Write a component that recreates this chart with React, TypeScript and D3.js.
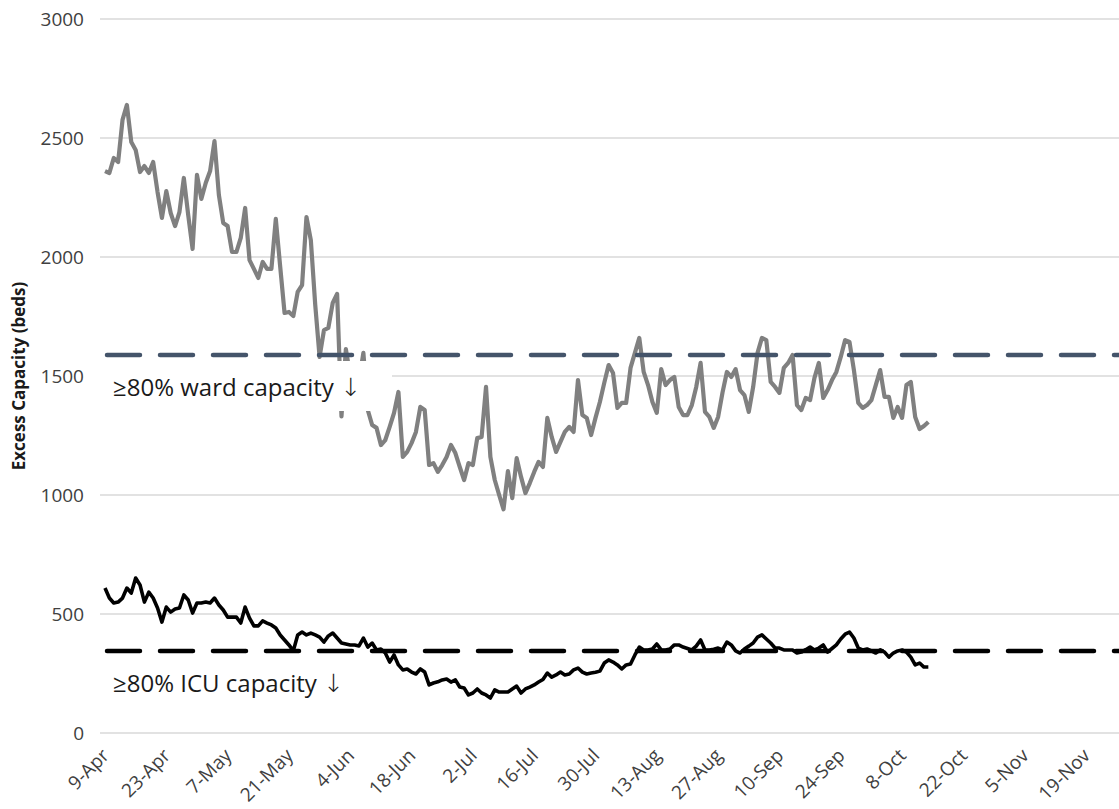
import React, { useEffect, useRef } from 'react';
import * as d3 from 'd3';

// daily excess capacity, 9-Apr onwards (beds)
const wardBeds = [
  2361, 2353, 2416, 2399, 2576, 2639, 2483, 2450, 2357, 2382,
  2353, 2399, 2273, 2164, 2277, 2185, 2130, 2189, 2332, 2176,
  2034, 2345, 2244, 2311, 2361, 2487, 2261, 2143, 2130, 2021,
  2021, 2080, 2206, 1987, 1950, 1912, 1979, 1950, 1950, 2160,
  1960, 1765, 1769, 1752, 1853, 1882, 2168, 2071, 1800, 1580,
  1693, 1702, 1807, 1845, 1330, 1613, 1500, 1450, 1480, 1597,
  1357, 1294, 1282, 1210, 1231, 1286, 1345, 1433, 1160, 1181,
  1218, 1265, 1370, 1357, 1126, 1134, 1097, 1126, 1160, 1210,
  1176, 1118, 1063, 1134, 1126, 1239, 1244, 1454, 1160, 1063,
  1000, 940, 1100, 987, 1155, 1076, 1008, 1050, 1097, 1139,
  1118, 1324, 1244, 1181, 1223, 1265, 1286, 1265, 1483, 1336,
  1324, 1252, 1324, 1391, 1471, 1546, 1513, 1366, 1387, 1387,
  1534, 1597, 1660, 1517, 1462, 1391, 1345, 1529, 1462, 1483,
  1496, 1370, 1336, 1336, 1378, 1454, 1555, 1349, 1328, 1282,
  1328, 1430, 1517, 1496, 1529, 1441, 1420, 1349, 1454, 1597,
  1660, 1651, 1475, 1454, 1429, 1534, 1555, 1588, 1378, 1357,
  1408, 1399, 1492, 1555, 1408, 1441, 1483, 1517, 1580, 1651,
  1643, 1525, 1387, 1366, 1378, 1399, 1462, 1525, 1412, 1412,
  1324, 1370, 1324, 1462, 1475, 1328, 1277, 1290, 1307,
];

const icuBeds = [
  609, 567, 546, 550, 567, 609, 588, 651, 622, 550,
  592, 567, 525, 466, 529, 508, 521, 525, 580, 559,
  504, 546, 546, 550, 546, 567, 538, 517, 487, 487,
  487, 462, 529, 483, 450, 450, 471, 462, 454, 441,
  412, 391, 370, 345, 412, 424, 412, 420, 412, 403,
  382, 408, 420, 399, 378, 374, 370, 370, 366, 399,
  361, 378, 349, 353, 336, 298, 328, 286, 265, 269,
  256, 248, 269, 256, 202, 210, 215, 223, 227, 214,
  223, 193, 189, 160, 168, 185, 168, 160, 147, 181,
  172, 172, 172, 185, 197, 168, 185, 193, 202, 214,
  225, 252, 235, 244, 256, 244, 248, 265, 273, 256,
  248, 252, 255, 260, 294, 307, 298, 286, 269, 286,
  290, 328, 361, 349, 349, 353, 374, 349, 349, 353,
  370, 370, 361, 355, 349, 365, 391, 349, 349, 352,
  357, 349, 382, 370, 345, 336, 353, 365, 378, 403,
  412, 395, 378, 357, 357, 349, 349, 349, 336, 340,
  350, 361, 349, 357, 370, 340, 355, 370, 395, 415,
  424, 399, 357, 349, 353, 345, 336, 349, 340, 319,
  336, 345, 349, 340, 319, 286, 294, 277, 277,
];

const wardThreshold = 1588;
const icuThreshold = 345;

const xTickLabels = [
  '9-Apr', '23-Apr', '7-May', '21-May', '4-Jun', '18-Jun', '2-Jul', '16-Jul', '30-Jul',
  '13-Aug', '27-Aug', '10-Sep', '24-Sep', '8-Oct', '22-Oct', '5-Nov', '19-Nov',
];
const yTicks = [0, 500, 1000, 1500, 2000, 2500, 3000];

const wardLabel = '≥80% ward capacity ↓';
const icuLabel = '≥80% ICU capacity ↓';
const yTitle = 'Excess Capacity (beds)';

const start = new Date(2020, 3, 9);

const App: React.FC = () => {
  const svgRef = useRef<SVGSVGElement>(null);

  useEffect(() => {
    if (!svgRef.current) return;
    const svg = d3.select(svgRef.current);
    svg.selectAll('*').remove();

    const W = 1119;
    const H = 809;
    const left = 103;
    const font = "'Open Sans', 'Noto Sans', sans-serif";

    const x = d3.scaleTime()
      .domain([start, d3.timeDay.offset(start, 224)])
      .range([105, 1086]);
    const y = d3.scaleLinear().domain([0, 3000]).range([733, 19]);

    const day = (i: number) => d3.timeDay.offset(start, i);

    // gridlines
    svg.append('g')
      .selectAll('line')
      .data(yTicks)
      .enter().append('line')
      .attr('x1', left - 3)
      .attr('x2', W)
      .attr('y1', d => y(d))
      .attr('y2', d => y(d))
      .attr('stroke', '#d9d9d9')
      .attr('stroke-width', 1.3);

    // y tick labels
    svg.append('g')
      .selectAll('text')
      .data(yTicks)
      .enter().append('text')
      .attr('x', 84)
      .attr('y', d => y(d))
      .attr('dy', '0.36em')
      .attr('text-anchor', 'end')
      .attr('font-family', font)
      .attr('font-size', 19)
      .attr('fill', '#404040')
      .text(d => d);

    // y title
    svg.append('text')
      .attr('transform', `translate(25,${y(1500)}) rotate(-90)`)
      .attr('text-anchor', 'middle')
      .attr('font-family', font)
      .attr('font-weight', 'bold')
      .attr('font-size', 17)
      .attr('fill', '#1a1a1a')
      .text(yTitle);

    // x axis labels
    const xAxis = d3.axisBottom(x)
      .tickValues(xTickLabels.map((_, i) => day(i * 14)))
      .tickFormat((_, i) => xTickLabels[i])
      .tickSize(0);

    const gx = svg.append('g')
      .attr('transform', `translate(0,733)`)
      .call(xAxis);
    gx.select('.domain').remove();
    gx.selectAll('text')
      .attr('x', 0)
      .attr('y', 0)
      .attr('dy', '0.35em')
      .attr('transform', 'translate(0,19) rotate(-45)')
      .attr('text-anchor', 'end')
      .attr('font-family', font)
      .attr('font-size', 19)
      .attr('fill', '#404040');

    // series lines
    const line = d3.line<number>()
      .x((_, i) => x(day(i)))
      .y(d => y(d));

    svg.append('path')
      .datum(wardBeds)
      .attr('fill', 'none')
      .attr('stroke', '#808080')
      .attr('stroke-width', 4.2)
      .attr('stroke-linejoin', 'round')
      .attr('d', line);

    svg.append('path')
      .datum(icuBeds)
      .attr('fill', 'none')
      .attr('stroke', '#000')
      .attr('stroke-width', 3.6)
      .attr('stroke-linejoin', 'round')
      .attr('d', line);

    // capacity thresholds
    const thresholds = [
      { v: wardThreshold, color: '#44546a' },
      { v: icuThreshold, color: '#000' },
    ];
    svg.append('g')
      .selectAll('line')
      .data(thresholds)
      .enter().append('line')
      .attr('x1', 107)
      .attr('x2', W + 20)
      .attr('y1', d => y(d.v))
      .attr('y2', d => y(d.v))
      .attr('stroke', d => d.color)
      .attr('stroke-width', 4.5)
      .attr('stroke-linecap', 'round')
      .attr('stroke-dasharray', '33 20');

    // annotation boxes + text
    svg.append('rect')
      .attr('x', left - 4)
      .attr('y', 361)
      .attr('width', 392 - left + 4)
      .attr('height', 50)
      .attr('fill', '#fff');

    const labels = [
      { t: wardLabel, yy: 396 },
      { t: icuLabel, yy: 692 },
    ];
    const lab = svg.append('g')
      .selectAll('text')
      .data(labels)
      .enter().append('text')
      .attr('x', 113)
      .attr('y', d => d.yy)
      .attr('font-family', font)
      .attr('font-size', 24)
      .attr('fill', '#1a1a1a');
    lab.append('tspan').text(d => d.t.slice(0, -1));
    lab.append('tspan')
      .attr('font-family', "'DejaVu Sans', sans-serif")
      .attr('font-size', 25)
      .attr('font-weight', 300)
      .text(d => d.t.slice(-1));

    svg.attr('width', W).attr('height', H);
  }, []);

  return (
    <svg
      ref={svgRef}
      style={{ position: 'absolute', left: 0, top: 0, background: '#fff' }}
    />
  );
};

export default App;
